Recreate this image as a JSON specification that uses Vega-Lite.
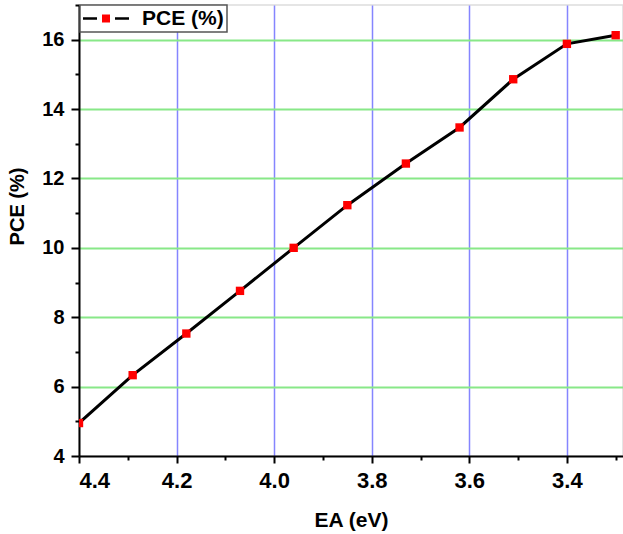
{
  "$schema": "https://vega.github.io/schema/vega-lite/v6.json",
  "width": 544,
  "height": 451,
  "autosize": {"type": "none"},
  "padding": {"left": 79, "top": 5, "right": 0, "bottom": 78},
  "background": "white",
  "config": {
    "font": "Liberation Sans",
    "view": {"stroke": "#dddddd", "strokeWidth": 1.5}
  },
  "data": {
    "values": [
      {"EA": 4.40, "PCE": 4.95, "series": "PCE (%)"},
      {"EA": 4.29, "PCE": 6.33, "series": "PCE (%)"},
      {"EA": 4.18, "PCE": 7.53, "series": "PCE (%)"},
      {"EA": 4.07, "PCE": 8.76, "series": "PCE (%)"},
      {"EA": 3.96, "PCE": 10.00, "series": "PCE (%)"},
      {"EA": 3.85, "PCE": 11.23, "series": "PCE (%)"},
      {"EA": 3.73, "PCE": 12.43, "series": "PCE (%)"},
      {"EA": 3.62, "PCE": 13.47, "series": "PCE (%)"},
      {"EA": 3.51, "PCE": 14.86, "series": "PCE (%)"},
      {"EA": 3.40, "PCE": 15.88, "series": "PCE (%)"},
      {"EA": 3.30, "PCE": 16.13, "series": "PCE (%)"}
    ]
  },
  "encoding": {
    "x": {
      "field": "EA",
      "type": "quantitative",
      "scale": {"domain": [3.285, 4.4], "reverse": true, "nice": false, "zero": false},
      "axis": {
        "title": "EA (eV)",
        "values": [4.4, 4.3, 4.2, 4.1, 4.0, 3.9, 3.8, 3.7, 3.6, 3.5, 3.4, 3.3],
        "labelExpr": "abs(round(datum.value*10))%2==0 ? format(datum.value,'.1f') : ''",
        "labelOverlap": false,
        "labelFontSize": 22,
        "labelFontWeight": "bold",
        "labelColor": "black",
        "labelPadding": 7,
        "tickSize": {"condition": {"test": "abs(round(datum.value*10))%2==0", "value": 7}, "value": 4},
        "tickColor": "black",
        "tickWidth": 2,
        "domainColor": "black",
        "domainWidth": 2,
        "grid": true,
        "gridColor": "#8585ff",
        "gridWidth": 1.5,
        "gridOpacity": {"condition": {"test": "datum.value < 4.35 && abs(round(datum.value*10))%2==0", "value": 1}, "value": 0},
        "titleFontSize": 21,
        "titleFontWeight": "bold",
        "titleColor": "black",
        "titlePadding": 18
      }
    },
    "y": {
      "field": "PCE",
      "type": "quantitative",
      "scale": {"domain": [4, 17], "nice": false, "zero": false},
      "axis": {
        "title": "PCE (%)",
        "values": [4, 5, 6, 7, 8, 9, 10, 11, 12, 13, 14, 15, 16, 17],
        "labelExpr": "datum.value%2==0 ? format(datum.value,'d') : ''",
        "labelOverlap": false,
        "labelFontSize": 20,
        "labelFontWeight": "bold",
        "labelColor": "black",
        "labelPadding": 7,
        "tickSize": {"condition": {"test": "datum.value%2==0", "value": 8}, "value": 4},
        "tickColor": "black",
        "tickWidth": 2,
        "domainColor": "black",
        "domainWidth": 2,
        "grid": true,
        "gridColor": "#88e888",
        "gridWidth": 2,
        "gridOpacity": {"condition": {"test": "datum.value > 4.5 && datum.value < 16.5 && datum.value%2==0", "value": 1}, "value": 0},
        "titleFontSize": 20,
        "titleFontWeight": "bold",
        "titleColor": "black",
        "titlePadding": 14,
        "titleY": 201
      }
    }
  },
  "layer": [
    {
      "mark": {"type": "line", "strokeWidth": 3, "clip": true},
      "encoding": {
        "stroke": {
          "field": "series",
          "type": "nominal",
          "scale": {"range": ["black"]},
          "legend": {
            "title": null,
            "orient": "none",
            "legendX": 1,
            "legendY": 0,
            "padding": 3,
            "strokeColor": "#555555",
            "fillColor": "white",
            "symbolType": "M-2.1,0H0.7M4.3,0H7.1",
            "symbolSize": 100,
            "symbolStrokeWidth": 2.5,
            "labelOffset": 38,
            "labelFontSize": 21,
            "labelFontWeight": "bold",
            "labelColor": "black",
            "labelLimit": 300,
            "encode": {"legend": {"update": {"strokeWidth": {"value": 1.5}}}}
          }
        }
      }
    },
    {
      "mark": {"type": "point", "shape": "square", "filled": true, "size": 70, "opacity": 1, "clip": true},
      "encoding": {
        "fill": {
          "field": "series",
          "type": "nominal",
          "scale": {"range": ["red"]},
          "legend": {
            "title": null,
            "orient": "none",
            "legendX": 1,
            "legendY": 0,
            "padding": 3,
            "symbolType": "M1.7,-0.8H3.3V0.8H1.7Z",
            "symbolSize": 100,
            "symbolStrokeWidth": 0,
            "symbolOpacity": 1,
            "labelOffset": 38,
            "labelFontSize": 21,
            "labelFontWeight": "bold",
            "labelOpacity": 0,
            "labelLimit": 300
          }
        }
      }
    }
  ]
}
